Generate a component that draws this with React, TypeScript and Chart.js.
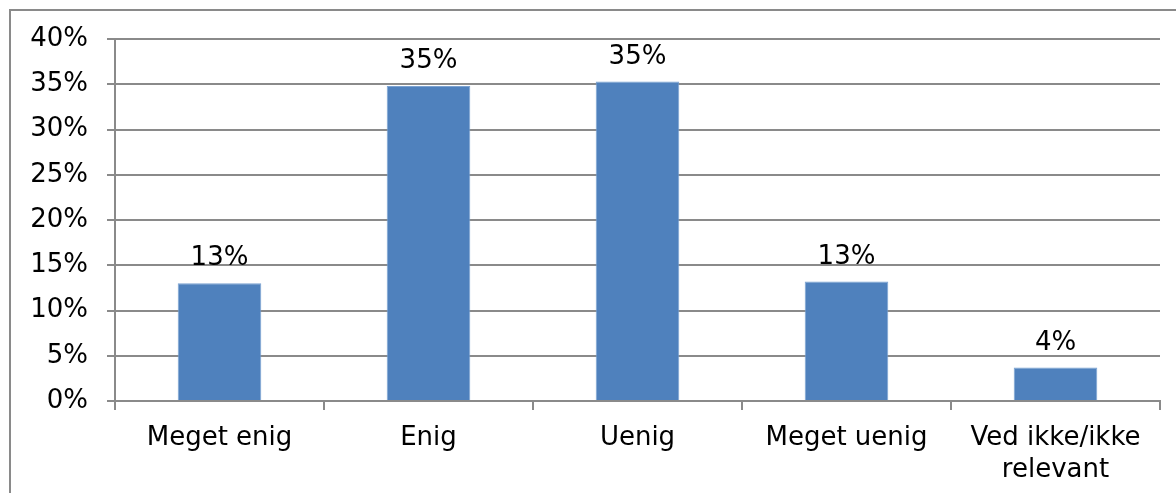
import React, { useEffect, useRef } from "react";
import { Chart, registerables } from "chart.js";

Chart.register(...registerables);

const categories: (string | string[])[] = ["Meget enig", "Enig", "Uenig", "Meget uenig", ["Ved ikke/ikke", "relevant"]];
const values: number[] = [13.0, 34.8, 35.3, 13.2, 3.7];
const valueLabels: string[] = ["13%", "35%", "35%", "13%", "4%"];
const yTicks: number[] = [0, 5, 10, 15, 20, 25, 30, 35, 40];

const FONT = "'DejaVu Sans', Verdana, sans-serif";
const GRID = "#8a8a8a";

const framePlugin = {
  id: "frame",
  beforeDraw(chart: any) {
    const ctx = chart.ctx;
    ctx.save();
    ctx.strokeStyle = GRID;
    ctx.lineWidth = 2;
    ctx.beginPath();
    ctx.moveTo(10, 493);
    ctx.lineTo(10, 10);
    ctx.lineTo(1176, 10);
    ctx.stroke();
    ctx.restore();
  },
};

const labelPlugin = {
  id: "valueLabels",
  afterDatasetsDraw(chart: any) {
    const ctx = chart.ctx;
    const meta = chart.getDatasetMeta(0);
    ctx.save();
    ctx.fillStyle = "#000";
    ctx.font = `26px ${FONT}`;
    ctx.textAlign = "center";
    ctx.textBaseline = "alphabetic";
    meta.data.forEach((bar: any, i: number) => {
      ctx.fillText(valueLabels[i], bar.x, bar.y - 18);
    });
    ctx.restore();
  },
};

export default function App() {
  const ref = useRef<HTMLCanvasElement>(null);
  useEffect(() => {
    if (!ref.current) return;
    const chart = new Chart(ref.current, {
      type: "bar",
      data: {
        labels: categories,
        datasets: [
          {
            data: values,
            backgroundColor: "#4F81BD",
            borderColor: "#7aa2d2",
            borderWidth: 1,
            barPercentage: 0.4,
            categoryPercentage: 1,
          },
        ],
      },
      options: {
        responsive: false,
        animation: false,
        events: [],
        layout: { padding: { left: 0, top: 39, right: 16, bottom: 0 } },
        plugins: { legend: { display: false }, tooltip: { enabled: false } },
        scales: {
          x: {
            offset: true,
            grid: {
              offset: true,
              drawOnChartArea: false,
              drawTicks: true,
              tickLength: 9,
              color: GRID,
              lineWidth: 2,
            },
            border: { color: GRID, width: 2 },
            ticks: {
              color: "#000",
              font: { family: FONT, size: 26 },
              padding: 13,
              maxRotation: 0,
              autoSkip: false,
            },
            afterFit(scale: any) {
              scale.height = 92;
            },
          },
          y: {
            min: 0,
            max: 40,
            afterBuildTicks(scale: any) {
              scale.ticks = yTicks.map((v) => ({ value: v }));
            },
            grid: {
              color: GRID,
              lineWidth: 2,
              drawTicks: true,
              tickLength: 8,
            },
            border: { color: GRID, width: 2 },
            ticks: {
              color: "#000",
              font: { family: FONT, size: 26 },
              padding: 19,
              callback: (v: any) => `${v}%`,
            },
            afterFit(scale: any) {
              scale.width = 115;
            },
          },
        },
      },
      plugins: [framePlugin, labelPlugin],
    });
    return () => chart.destroy();
  }, []);
  return (
    <div style={{ position: "absolute", left: 0, top: 0, width: 1176, height: 493, background: "#fff" }}>
      <canvas ref={ref} width={1176} height={493} style={{ display: "block" }} />
    </div>
  );
}
